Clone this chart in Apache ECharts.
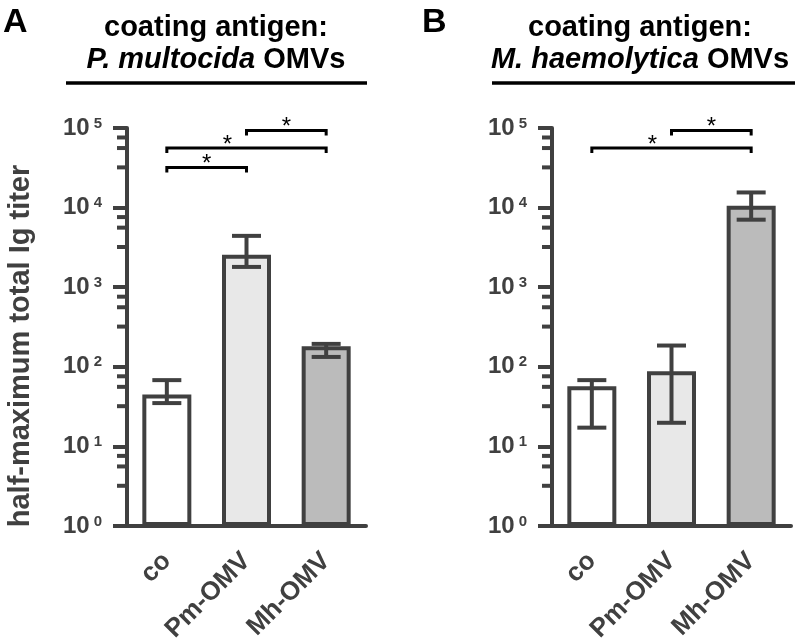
<!DOCTYPE html>
<html><head><meta charset="utf-8">
<script src="https://cdn.jsdelivr.net/npm/echarts@6/dist/echarts.min.js"></script>
<style>html,body{margin:0;padding:0;background:#fff}#c{width:795px;height:643px}</style>
</head><body><div id="c"></div>
<script>
// ---------- data ----------
const categories = ['co', 'Pm-OMV', 'Mh-OMV'];
const panelLabels = ['A', 'B'];
const titleLine1 = 'coating antigen:';
const titleSpecies = ['P. multocida', 'M. haemolytica'];
const titleSuffix = 'OMVs';
const yAxisName = 'half-maximum total Ig titer';
const majorTicks = [1, 10, 100, 1000, 10000, 100000];
const minorTicks = [3.2, 5.6, 7.6, 32, 56, 76, 320, 560, 760, 3200, 5600, 7600, 32000, 56000, 76000];
const meanA = [45, 2565, 181];
const lowA = [35, 1798, 133];
const highA = [68, 4415, 194];
const meanB = [57, 88, 10570];
const lowB = [17.2, 19.8, 7050];
const highB = [68, 185, 15500];
// [fromCategory, toCategory, bracketHeight]
const bracketsA = [[0, 1, 32000], [0, 2, 56000], [1, 2, 93000]];
const bracketsB = [[0, 2, 56000], [1, 2, 93000]];
const barColors = ['#ffffff', '#e8e8e8', '#bbbbbb'];

// ---------- styling ----------
const FONT = '"Liberation Sans", Arial, sans-serif';
const AX = '#404040';
const GRID_W = 239;

function errorItem(params, api) {
  const x = api.value(0);
  const lo = api.coord([x, api.value(1)]);
  const hi = api.coord([x, api.value(2)]);
  const hw = 14.5;
  const style = { stroke: AX, lineWidth: 4, fill: null };
  return { type: 'group', children: [
    { type: 'line', shape: { x1: lo[0], y1: lo[1], x2: hi[0], y2: hi[1] }, style },
    { type: 'line', shape: { x1: lo[0] - hw, y1: lo[1], x2: lo[0] + hw, y2: lo[1] }, style },
    { type: 'line', shape: { x1: hi[0] - hw, y1: hi[1], x2: hi[0] + hw, y2: hi[1] }, style }
  ]};
}
function bracketItem(params, api) {
  const a = api.coord([api.value(0), api.value(2)]);
  const b = api.coord([api.value(1), api.value(2)]);
  const span = api.value(1) - api.value(0);
  const f = span > 1 ? 0.38 : 0.5;
  const sx = a[0] + (b[0] - a[0]) * f;
  return { type: 'group', children: [
    { type: 'polyline', shape: { points: [[a[0], a[1] + 5], [a[0], a[1]], [b[0], b[1]], [b[0], b[1] + 5]] },
      style: { stroke: '#000', lineWidth: 3, fill: null } },
    { type: 'text', x: sx, y: a[1] - 3,
      style: { text: '*', fill: '#000', align: 'center', verticalAlign: 'middle', font: '24px ' + FONT } }
  ]};
}
// minor ticks of the log y axis, placed through the axis scale at the plot's left edge
function minorTickItem(params, api) {
  const p = api.coord([0, api.value(1)]);
  const x0 = p[0] - api.size([1, 0])[0] / 2;
  return { type: 'group', children: [
    { type: 'line', shape: { x1: x0 - 10, y1: p[1], x2: x0, y2: p[1] }, style: { stroke: AX, lineWidth: 4 } }
  ]};
}

function yMain(grid) {
  return {
    type: 'log', logBase: 10, gridIndex: grid, min: 1, max: 100000, position: 'left',
    axisLine: { show: true, lineStyle: { color: AX, width: 4 } },
    axisTick: { show: true, customValues: majorTicks, length: 14, lineStyle: { color: AX, width: 4 } },
    axisLabel: {
      customValues: majorTicks, margin: 25,
      formatter: v => '{b|10}{s|' + Math.round(Math.log10(v)) + '}',
      rich: {
        b: { fontSize: 24, fontWeight: 'bold', color: AX, fontFamily: FONT },
        s: { fontSize: 15, fontWeight: 'bold', color: AX, fontFamily: FONT, verticalAlign: 'top', padding: [0, 0, 0, 4] }
      }
    },
    splitLine: { show: false }
  };
}
function xCat(grid) {
  return {
    type: 'category', gridIndex: grid, data: categories,
    axisLine: { lineStyle: { color: AX, width: 4 } },
    axisTick: { alignWithLabel: true, length: 14, lineStyle: { color: AX, width: 4 } },
    axisLabel: { rotate: 45, margin: 31, fontSize: 26, fontWeight: 'bold', color: AX, fontFamily: FONT, interval: 0 }
  };
}
function barSeries(xi, yi, vals) {
  return {
    type: 'bar', xAxisIndex: xi, yAxisIndex: yi, barWidth: 49,
    data: vals.map((v, i) => ({ value: v, itemStyle: { color: barColors[i] } })),
    itemStyle: { borderColor: AX, borderWidth: 4 }, z: 2, silent: true
  };
}
function errSeries(xi, yi, lo, hi) {
  return {
    type: 'custom', xAxisIndex: xi, yAxisIndex: yi, renderItem: errorItem, z: 5,
    data: lo.map((l, i) => [i, l, hi[i]]), encode: { x: 0, y: [1, 2] }, silent: true
  };
}
function brSeries(xi, yi, br) {
  return {
    type: 'custom', xAxisIndex: xi, yAxisIndex: yi, renderItem: bracketItem, z: 6,
    data: br, encode: { x: [0, 1], y: 2 }, silent: true, clip: false
  };
}
function minorSeries(xi, yi) {
  return {
    type: 'custom', xAxisIndex: xi, yAxisIndex: yi, renderItem: minorTickItem, z: 10,
    data: minorTicks.map(v => [0, v]), encode: { x: 0, y: 1 }, silent: true, clip: false
  };
}

function titleText(cx, species) {
  return {
    type: 'text', x: cx, y: 12,
    style: {
      text: '{n|' + titleLine1 + '}\n{i|' + species + '}{n| ' + titleSuffix + '}',
      align: 'center', verticalAlign: 'top',
      rich: {
        n: { fontSize: 29, fontWeight: 'bold', fill: '#000', fontFamily: FONT, lineHeight: 32 },
        i: { fontSize: 29, fontWeight: 'bold', fontStyle: 'italic', fill: '#000', fontFamily: FONT, lineHeight: 32 }
      }
    }
  };
}

const chart = echarts.init(document.getElementById('c'), null, { renderer: 'canvas' });
chart.setOption({
  animation: false,
  backgroundColor: '#fff',
  grid: [
    { left: 127, top: 128, width: GRID_W, height: 398, outerBoundsMode: 'none', containLabel: false },
    { left: 552, top: 128, width: GRID_W, height: 398, outerBoundsMode: 'none', containLabel: false }
  ],
  xAxis: [xCat(0), xCat(1)],
  yAxis: [yMain(0), yMain(1)],
  series: [
    barSeries(0, 0, meanA), errSeries(0, 0, lowA, highA), brSeries(0, 0, bracketsA), minorSeries(0, 0),
    barSeries(1, 1, meanB), errSeries(1, 1, lowB, highB), brSeries(1, 1, bracketsB), minorSeries(1, 1)
  ],
  graphic: [
    { type: 'text', x: 3, y: 6, style: { text: panelLabels[0], font: 'bold 34px ' + FONT, fill: '#000' } },
    { type: 'text', x: 422, y: 6, style: { text: panelLabels[1], font: 'bold 34px ' + FONT, fill: '#000' } },
    titleText(216, titleSpecies[0]),
    titleText(640, titleSpecies[1]),
    { type: 'line', shape: { x1: 66, y1: 83, x2: 367, y2: 83 }, style: { stroke: '#000', lineWidth: 3.5 } },
    { type: 'line', shape: { x1: 492, y1: 83, x2: 795, y2: 83 }, style: { stroke: '#000', lineWidth: 3.5 } },
    { type: 'text', x: 21, y: 346, rotation: Math.PI / 2,
      style: { text: yAxisName, font: 'bold 29px ' + FONT, fill: AX, align: 'center', verticalAlign: 'middle' } }
  ]
});
</script>
</body></html>
